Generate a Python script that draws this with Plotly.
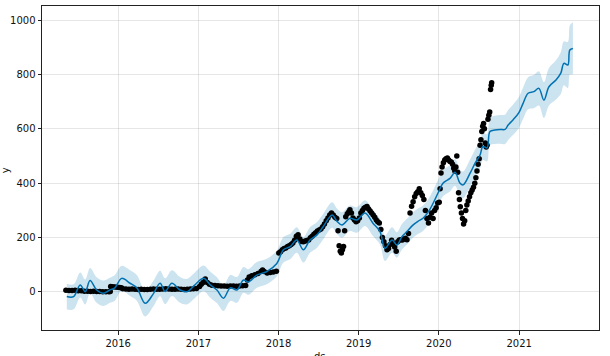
import plotly.graph_objects as go

# ---- forecast (yhat with uncertainty band) ----
fc_dates = ["2015-05-12","2015-06-12","2015-07-12","2015-08-04","2015-08-26","2015-09-25","2015-10-26","2015-11-24","2015-12-17",
            "2016-01-17","2016-02-24","2016-03-26","2016-05-03","2016-06-09","2016-07-10","2016-08-02","2016-09-02","2016-10-09","2016-11-09","2016-12-16",
            "2017-01-24","2017-02-24","2017-03-26","2017-04-25","2017-05-26","2017-06-25","2017-07-25","2017-08-17","2017-09-24","2017-11-08","2017-12-24",
            "2018-01-23","2018-02-23","2018-03-25","2018-04-24","2018-05-24","2018-06-25","2018-07-23","2018-09-02","2018-09-24","2018-10-17","2018-11-22","2018-12-24",
            "2019-01-30","2019-03-07","2019-04-08","2019-05-01","2019-06-02","2019-06-24","2019-07-17","2019-08-09","2019-09-05","2019-09-28","2019-10-21","2019-11-22","2019-12-28",
            "2020-01-20","2020-02-21","2020-03-15","2020-04-07","2020-04-21","2020-05-22","2020-06-14","2020-07-07","2020-07-20","2020-08-08","2020-08-21","2020-09-13","2020-10-06","2020-10-29","2020-11-12","2020-12-04","2020-12-31",
            "2021-01-19","2021-02-11","2021-03-09","2021-04-01","2021-04-24","2021-05-17","2021-06-18","2021-07-10","2021-07-24","2021-08-11","2021-08-20","2021-09-03"]
yhat = [-17,-17,26,1,42,7,-5,7,15,
        50,32,15,-42,-7,32,2,32,7,1,26,
        50,26,7,-23,15,7,44,37,62,75,105,
        155,167,191,155,191,210,240,283,260,246,271,265,
        290,253,222,161,191,173,203,222,246,260,271,305,363,
        400,418,440,400,394,436,473,504,535,530,590,596,598,598,614,633,660,
        694,731,737,749,706,755,780,805,841,835,890,896]
yhat_lower = [-65,-64,-20,-46,-5,-40,-52,-40,-32,
              4,-15,-32,-90,-54,-16,-45,-15,-40,-46,-22,
              3,-21,-41,-70,-33,-40,-3,-10,15,28,58,
              108,120,144,108,144,163,193,236,213,199,224,218,
              243,206,175,114,144,126,156,175,199,213,224,258,315,
              352,370,391,351,345,386,423,454,485,480,540,544,545,544,559,577,603,
              636,672,676,686,640,686,708,728,760,750,800,800]
yhat_upper = [30,28,72,46,88,54,42,52,62,
              96,80,62,5,40,78,50,80,55,48,72,
              97,74,54,24,62,55,92,84,110,122,152,
              202,214,238,202,238,257,287,330,307,293,318,312,
              337,300,269,208,238,220,250,269,293,307,318,352,411,
              448,466,489,449,443,486,523,554,585,580,640,648,651,652,669,689,717,
              752,790,798,812,772,824,852,882,922,920,980,992]

# ---- observed values ----
obs_dates = ["2015-05-08","2015-05-22","2015-06-05","2015-06-19","2015-07-03","2015-07-17","2015-07-31","2015-08-14","2015-08-28","2015-09-11","2015-09-25","2015-10-09","2015-10-23","2015-11-06","2015-11-20","2015-11-26",
             "2015-11-28","2015-12-08","2015-12-18","2015-12-28",
             "2016-01-08","2016-01-16","2016-01-22","2016-02-05","2016-02-19","2016-03-04","2016-03-18","2016-04-01","2016-04-15","2016-04-29","2016-05-13","2016-05-27","2016-06-10","2016-06-24","2016-07-08","2016-07-22","2016-08-05","2016-08-19","2016-09-02","2016-09-16","2016-09-30","2016-10-14","2016-10-28","2016-11-11","2016-11-25","2016-12-09","2016-12-23",
             "2017-01-06","2017-01-14","2017-01-22","2017-02-01","2017-02-10","2017-02-20","2017-03-03","2017-03-17","2017-03-31","2017-04-14","2017-04-28","2017-05-12","2017-05-26","2017-06-09","2017-06-23","2017-07-07","2017-07-21","2017-08-04","2017-08-12","2017-08-20","2017-09-01","2017-09-15","2017-09-29","2017-10-13","2017-10-20","2017-10-27","2017-11-10","2017-11-24","2017-12-08","2017-12-22",
             "2018-01-02","2018-01-10","2018-01-18","2018-01-26","2018-02-03","2018-02-11","2018-02-19","2018-02-27","2018-03-07","2018-03-15","2018-03-23","2018-03-31","2018-04-08","2018-04-16","2018-04-24","2018-05-02","2018-05-10","2018-05-18","2018-05-26","2018-06-03","2018-06-11","2018-06-19","2018-06-27","2018-07-05","2018-07-13","2018-07-21","2018-07-29","2018-08-06","2018-08-14","2018-08-22","2018-08-30","2018-09-07","2018-09-15","2018-09-23","2018-09-29","2018-10-04","2018-10-09","2018-10-14","2018-10-19","2018-10-24","2018-10-29","2018-11-03","2018-11-10","2018-11-17","2018-11-22","2018-11-29","2018-12-06","2018-12-13","2018-12-20","2018-12-27",
             "2019-01-04","2019-01-11","2019-01-18","2019-01-25","2019-02-01","2019-02-08","2019-02-15","2019-02-22","2019-03-01","2019-03-08","2019-03-15","2019-03-22","2019-03-29","2019-04-05","2019-04-12","2019-04-19","2019-04-26","2019-05-03","2019-05-10","2019-05-17","2019-05-24","2019-05-31","2019-06-07","2019-06-14","2019-06-21","2019-06-28","2019-07-05","2019-07-12","2019-07-19","2019-07-26","2019-08-02","2019-08-09","2019-08-16","2019-08-23","2019-08-30","2019-09-06","2019-09-13","2019-09-20","2019-09-27","2019-10-04","2019-10-11","2019-10-18","2019-10-25","2019-11-01","2019-11-08","2019-11-15","2019-11-22","2019-11-29","2019-12-06","2019-12-13","2019-12-20","2019-12-27",
             "2020-01-03","2020-01-07","2020-01-11","2020-01-16","2020-01-22","2020-01-28","2020-02-03","2020-02-09","2020-02-15","2020-02-21","2020-02-27","2020-03-04","2020-03-09","2020-03-14","2020-03-19","2020-03-23","2020-03-27","2020-03-31","2020-04-04","2020-04-08","2020-04-13","2020-04-18","2020-04-23","2020-04-28","2020-05-03","2020-05-08","2020-05-14","2020-05-20","2020-05-26","2020-06-01","2020-06-07","2020-06-13","2020-06-18","2020-06-23","2020-06-28","2020-07-03","2020-07-07","2020-07-11","2020-07-15","2020-07-19","2020-07-23","2020-07-27","2020-07-31","2020-08-04","2020-08-08","2020-08-12","2020-08-16","2020-08-20","2020-08-24","2020-08-27","2020-08-29"]
obs_vals = [6,5,5,6,4,4,3,3,2,3,2,2,1,1,1,2,
            20,19,18,17,
            16,15,12,11,10,11,10,9,10,9,9,10,11,10,10,11,12,11,10,10,11,10,9,10,11,12,13,
            20,28,35,48,35,28,25,24,23,22,22,21,22,22,21,22,23,24,44,55,60,63,68,75,81,75,70,72,73,76,
            143,148,155,160,162,167,170,175,180,190,205,210,195,186,185,187,189,191,199,205,212,218,224,228,232,240,250,262,272,283,290,283,275,270,225,170,150,143,155,167,225,277,288,295,302,290,272,265,258,262,
            272,290,300,308,312,314,305,298,290,283,275,265,258,254,230,200,185,170,155,160,175,190,180,165,150,185,191,192,191,195,198,192,215,290,315,332,350,362,369,380,365,355,340,300,270,254,275,290,270,300,310,327,
            330,380,438,460,475,485,490,493,485,480,478,470,455,445,460,500,440,365,340,313,290,270,250,262,300,320,335,350,365,375,385,400,420,445,470,490,540,560,590,610,620,600,548,533,540,635,650,662,745,760,770]

x_ticks = ["2016-01-01","2017-01-01","2018-01-01","2019-01-01","2020-01-01","2021-01-01"]
x_labels = ["2016","2017","2018","2019","2020","2021"]
y_ticks = [0, 200, 400, 600, 800, 1000]

BLUE = "#0072B2"
FONT = dict(family="DejaVu Sans", size=10, color="#111")
fig = go.Figure()
fig.add_trace(go.Scatter(x=fc_dates, y=yhat_upper, mode="lines", line=dict(width=0, shape="spline"),
                         hoverinfo="skip", showlegend=False))
fig.add_trace(go.Scatter(x=fc_dates, y=yhat_lower, mode="lines", line=dict(width=0, shape="spline"),
                         fill="tonexty", fillcolor="rgba(0,114,178,0.2)", hoverinfo="skip", showlegend=False))
fig.add_trace(go.Scatter(x=obs_dates, y=obs_vals, mode="markers",
                         marker=dict(color="black", size=5.5), showlegend=False))
fig.add_trace(go.Scatter(x=fc_dates, y=yhat, mode="lines", line=dict(color=BLUE, width=1.5, shape="spline"),
                         showlegend=False))

axis_common = dict(showline=True, linecolor="#222", linewidth=1, mirror=True,
                   ticks="outside", ticklen=3.5, tickcolor="#222", automargin=False,
                   showgrid=True, gridcolor="rgba(128,128,128,0.2)", gridwidth=1,
                   zeroline=False, tickfont=FONT)
fig.update_xaxes(type="date", range=["2015-01-19", "2021-12-31"], tickvals=x_ticks, ticktext=x_labels,
                 **axis_common)
fig.update_yaxes(range=[-140, 1052], tickvals=y_ticks, **axis_common)
fig.add_annotation(text="ds", xref="paper", yref="paper", x=0.499, y=-0.058, xanchor="center", yanchor="top",
                   showarrow=False, font=FONT)
fig.add_annotation(text="y", xref="paper", yref="paper", x=-0.064, y=0.494, xanchor="center", yanchor="middle",
                   textangle=-90, showarrow=False, font=FONT)
fig.update_layout(width=610, height=356, margin=dict(l=42, r=11, t=6, b=26),
                  paper_bgcolor="white", plot_bgcolor="white", showlegend=False)
fig.write_html("out.html", config={"displayModeBar": False},
               post_script="document.body.style.margin='0';document.body.style.overflow='hidden';")
